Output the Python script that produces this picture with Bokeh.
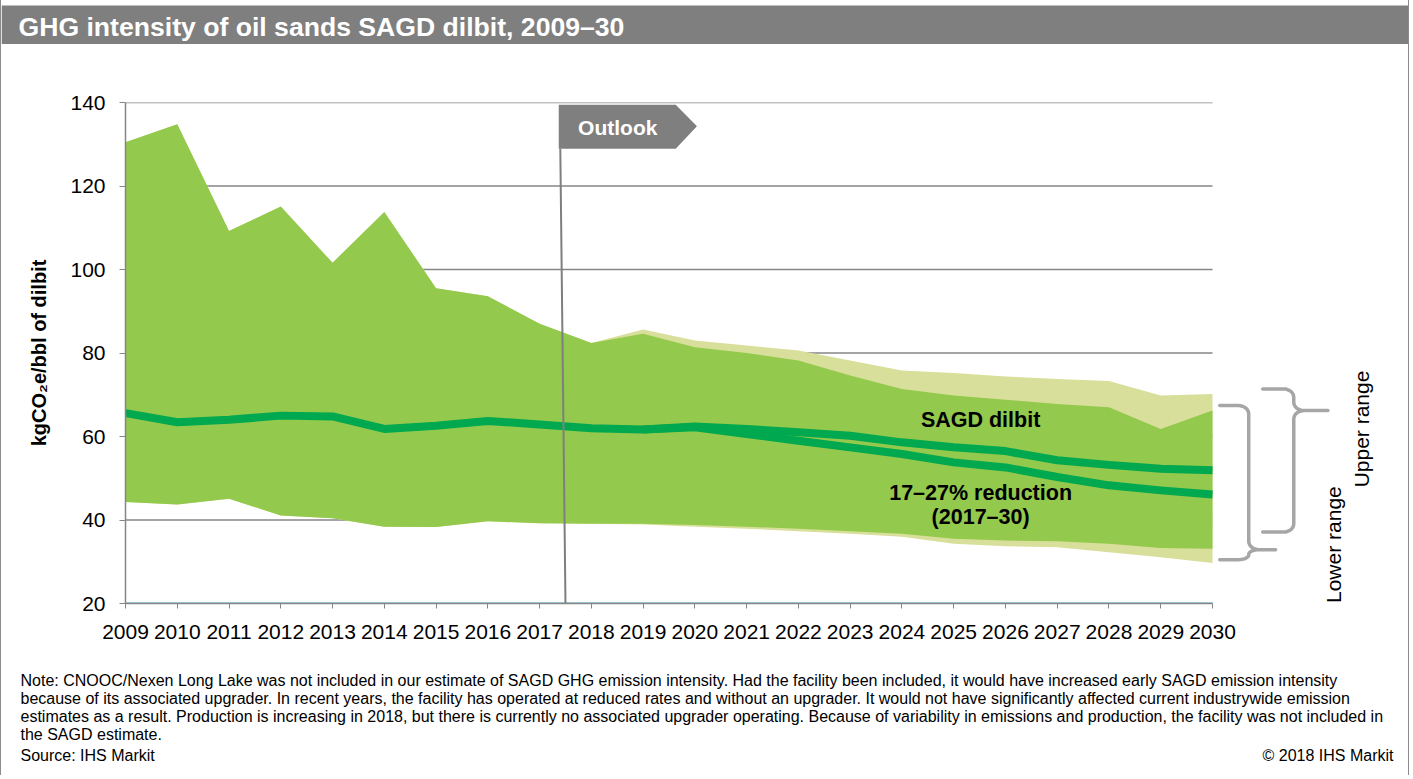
import numpy as np
from bokeh.plotting import figure
from bokeh.models import Range1d, FixedTicker, Label
from bokeh.layouts import column
from bokeh.embed import file_html
from bokeh.resources import INLINE
from bokeh.core.properties import value

# ---------------- data ----------------
years = list(range(2009, 2031))
y_ticks = [20, 40, 60, 80, 100, 120, 140]

# lower (inner, green) range band
inner_high = [130.5, 134.8, 109.2, 115.1, 101.6, 113.8, 95.5, 93.6, 87.0, 82.4, 84.6,
              81.4, 80.0, 78.2, 74.6, 71.4, 69.8, 68.8, 67.8, 67.0, 61.8, 66.2]
inner_low = [44.3, 43.7, 45.1, 41.1, 40.4, 38.4, 38.3, 39.7, 39.2, 39.1, 39.1,
             38.8, 38.4, 37.9, 37.3, 36.7, 35.5, 35.1, 34.9, 34.3, 33.3, 33.1]
# upper (outer, yellow) range band
outer_high = [130.5, 134.8, 109.2, 115.1, 101.6, 113.8, 95.5, 93.6, 87.0, 82.4, 85.6,
              83.0, 81.8, 80.6, 78.2, 75.8, 75.2, 74.4, 73.8, 73.3, 69.8, 70.2]
outer_low = [44.3, 43.7, 45.1, 41.1, 40.4, 38.4, 38.3, 39.7, 39.2, 39.1, 38.9,
             38.4, 37.9, 37.3, 36.7, 36.0, 34.3, 33.7, 33.5, 32.3, 31.1, 29.7]

sagd_dilbit = [65.6, 63.4, 64.0, 65.0, 64.8, 61.8, 62.6, 63.7, 62.9, 62.0, 61.7,
               62.4, 61.8, 61.0, 60.2, 58.6, 57.4, 56.5, 54.3, 53.2, 52.3, 51.9]
reduction_years = list(range(2019, 2031))
reduction = [61.7, 62.2, 60.6, 59.0, 57.4, 55.8, 53.8, 52.6, 50.3, 48.3, 47.1, 46.1]

outlook_year = 2017.4

title_text = "GHG intensity of oil sands SAGD dilbit, 2009\u201330"
y_label = "kgCO\u2082e/bbl of dilbit"
note_lines = [
    "Note: CNOOC/Nexen Long Lake was not included in our estimate of SAGD GHG emission intensity. Had the facility been included, it would have increased early SAGD emission intensity",
    "because of its associated upgrader. In recent years, the facility has operated at reduced rates and without an upgrader. It would not have significantly affected current industrywide emission",
    "estimates as a result. Production is increasing in 2018, but there is currently no associated upgrader operating. Because of variability in emissions and production, the facility was not included in",
    "the SAGD estimate.",
    "Source: IHS Markit",
]
copyright_text = "\u00a9 2018 IHS Markit"

# ---------------- style ----------------
W = 1407
X0 = 1  # page x of the children's left edge (after the 1px border)
FONT = value("Liberation Sans")
FONT_NAME = "Liberation Sans"
GRAY = "#868686"
GREEN_BAND = "#93C94C"
YELLOW_BAND = "#D8DF9A"
LINE_GREEN = "#00A84F"
BRACE_GRAY = "#A6A6A6"

# ---------------- header ----------------
hdr = figure(width=W, height=44, x_range=Range1d(X0, X0 + W), y_range=Range1d(44, 0),
             x_axis_location=None, y_axis_location=None, toolbar_location=None,
             output_backend="svg", min_border=0, frame_align=False)
hdr.grid.visible = False
hdr.outline_line_color = None
hdr.background_fill_color = "white"
hdr.border_fill_color = "white"
hdr.quad(left=[X0], right=[X0 + W], top=[5], bottom=[44], fill_color="#7F7F7F", line_color=None)
hdr.text(x=[18], y=[26.5], text=[title_text], text_color="white", text_font=FONT,
         text_font_style="bold", text_font_size="26.6px", text_baseline="middle")

# ---------------- main chart ----------------
p = figure(width=W, height=606, x_range=Range1d(2009, 2033.632), y_range=Range1d(20, 140),
           toolbar_location=None, output_backend="svg", frame_align=False,
           min_border_left=124, min_border_right=8, min_border_top=58, min_border_bottom=47)
p.outline_line_color = None
p.grid.visible = False
p.background_fill_color = "white"
p.border_fill_color = "white"

# gridlines (only across the data years)
p.segment(x0=years[0], x1=years[-1], y0=y_ticks[1:], y1=y_ticks[1:], line_color=GRAY, line_width=1.5)

# bands
p.varea(x=years, y1=outer_low, y2=outer_high, fill_color=YELLOW_BAND)
p.varea(x=years, y1=inner_low, y2=inner_high, fill_color=GREEN_BAND)

# baseline teal dotted series at the axis
p.line(x=[years[0], years[-1]], y=[y_ticks[0], y_ticks[0]], line_color="#4BACC6",
       line_width=3, line_dash="1 1")

# lines
p.line(x=years, y=sagd_dilbit, line_color=LINE_GREEN, line_width=8, line_join="round")
p.line(x=reduction_years, y=reduction, line_color=LINE_GREEN, line_width=8, line_join="round")

# outlook divider + tag
p.segment(x0=[outlook_year], y0=[128.9], x1=[outlook_year + 0.1], y1=[20],
          line_color="#7F7F7F", line_width=2)
p.patch(x=[2017.37, 2019.63, 2020.04, 2019.63, 2017.37],
        y=[139.45, 139.45, 134.3, 128.9, 128.9], fill_color="#7F7F7F", line_color=None)
p.text(x=[2018.51], y=[134.1], text=["Outlook"], text_color="white", text_font=FONT,
       text_font_style="bold", text_font_size="21px", text_align="center", text_baseline="middle")

# in-chart labels
p.text(x=[2025.52], y=[64.07], text=["SAGD dilbit"], text_font=FONT, text_font_style="bold",
       text_font_size="21.5px", text_align="center", text_baseline="middle", text_color="black")
p.text(x=[2025.52, 2025.52], y=[46.42, 40.67], text=["17\u201327% reduction", "(2017\u201330)"],
       text_font=FONT, text_font_style="bold", text_font_size="21.5px", text_align="center",
       text_baseline="middle", text_color="black")


def brace(x_end, x_stem, x_tip, y_top, y_bot, y_tip, rx, ry1, ry2):
    t = np.linspace(0, np.pi / 2, 9)
    xs, ys = [x_end], [y_top]
    xs += list(x_stem - rx + rx * np.sin(t)); ys += list(y_top - ry1 + ry1 * np.cos(t))
    xs += list(x_stem + rx - rx * np.cos(t)); ys += list(y_tip + ry1 - ry1 * np.sin(t))
    xs += [x_tip, x_stem + rx]; ys += [y_tip, y_tip]
    xs += list(x_stem + rx - rx * np.sin(t)); ys += list(y_tip - ry2 + ry2 * np.cos(t))
    xs += list(x_stem - rx + rx * np.cos(t)); ys += list(y_bot + ry2 - ry2 * np.sin(t))
    xs += [x_end]; ys += [y_bot]
    return xs, ys


bx1, by1 = brace(2030.97, 2031.57, 2032.23, 71.4, 37.1, 66.2, 0.2, 2.0, 2.0)
bx2, by2 = brace(2030.14, 2030.70, 2031.22, 67.4, 30.5, 32.9, 0.2, 2.0, 1.15)
p.multi_line(xs=[bx1, bx2], ys=[by1, by2], line_color=BRACE_GRAY, line_width=3.5,
             line_join="round", line_cap="round")

for txt, x, y in [("Upper range", 2032.88, 61.8), ("Lower range", 2032.34, 34.1)]:
    p.add_layout(Label(x=x, y=y, text=txt, angle=np.pi / 2, text_align="center",
                       text_baseline="middle", text_font=FONT_NAME, text_font_size="21px",
                       text_color="black"))

# axes
xa = p.xaxis[0]
xa.ticker = FixedTicker(ticks=years)
xa.bounds = (years[0], years[-1])
xa.axis_line_color = GRAY
xa.axis_line_width = 1.5
xa.major_tick_line_color = GRAY
xa.major_tick_in = 0
xa.major_tick_out = 5
xa.minor_tick_line_color = None
xa.major_label_text_font = FONT_NAME
xa.major_label_text_font_size = "21px"
xa.major_label_text_color = "black"
xa.major_label_standoff = 16

ya = p.yaxis[0]
ya.ticker = FixedTicker(ticks=y_ticks)
ya.axis_line_color = GRAY
ya.axis_line_width = 1.5
ya.major_tick_line_color = GRAY
ya.major_tick_in = 0
ya.major_tick_out = 6
ya.minor_tick_line_color = None
ya.major_label_text_font = FONT_NAME
ya.major_label_text_font_size = "21px"
ya.major_label_text_color = "black"
ya.major_label_standoff = 14
ya.axis_label = y_label
ya.axis_label_text_font = FONT_NAME
ya.axis_label_text_font_style = "bold"
ya.axis_label_text_font_size = "20px"
ya.axis_label_text_color = "black"
ya.axis_label_standoff = 17

# ---------------- notes ----------------
notes = figure(width=W, height=125, x_range=Range1d(X0, X0 + W), y_range=Range1d(775, 650),
               x_axis_location=None, y_axis_location=None, toolbar_location=None,
               output_backend="svg", min_border=0, frame_align=False)
notes.grid.visible = False
notes.outline_line_color = None
notes.text(x=20, y=[680, 698, 716, 734, 755], text=note_lines, text_font=FONT,
           text_font_size="16px", text_baseline="middle", text_color="black")
notes.text(x=[1393], y=[755], text=[copyright_text], text_font=FONT, text_font_size="16px",
           text_baseline="middle", text_align="right", text_color="black")

layout = column(hdr, p, notes,
                styles={"border-left": "1px solid #8C8C8C", "border-right": "1px solid #8C8C8C"})
open("out.html", "w").write(file_html(layout, INLINE))
